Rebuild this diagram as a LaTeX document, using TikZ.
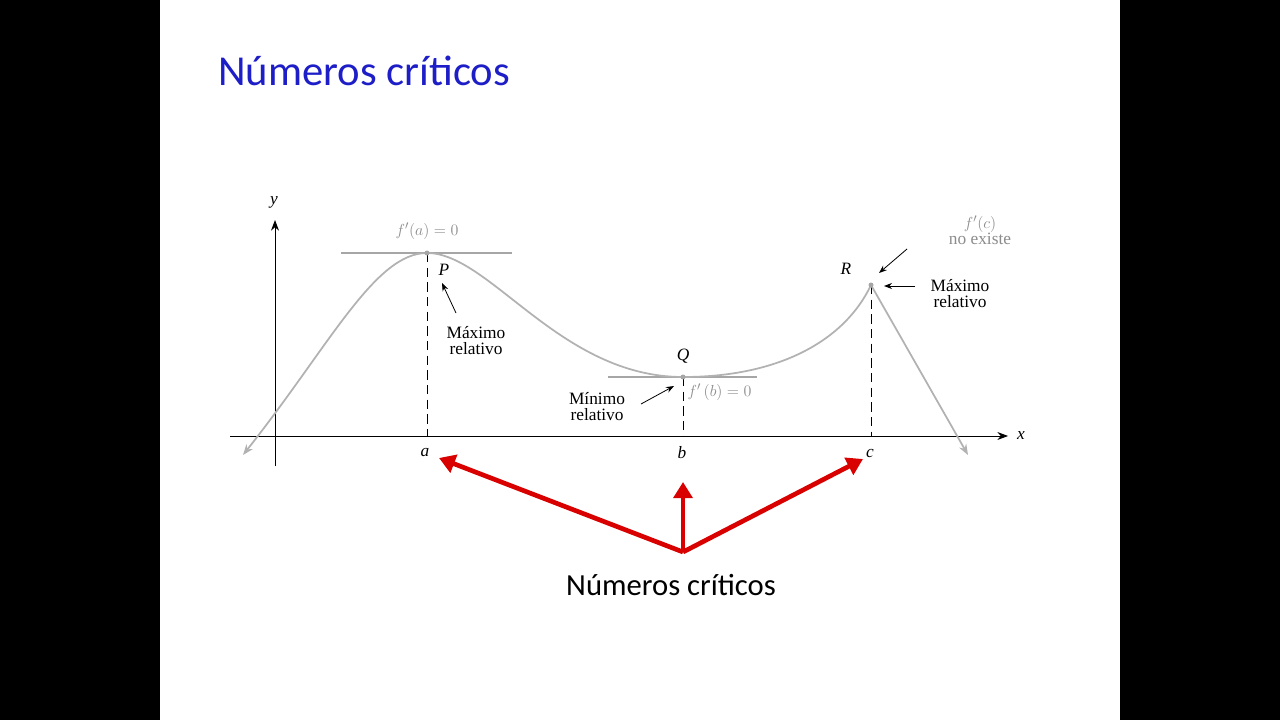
\documentclass[tikz,border=0pt]{standalone}
\usepackage{fontspec}
\setmainfont{Liberation Serif}
\newfontfamily\calfnt{Carlito}
\usetikzlibrary{arrows.meta}
\begin{document}
\begin{tikzpicture}[x=0.75pt,y=-0.75pt,
 curve/.style={draw=black!30,line width=1.3pt},
 axis/.style={draw=black,line width=0.7pt,-{Stealth[length=8pt]}},
 dsh/.style={draw=black,dash pattern=on 7pt off 4pt,line width=0.6pt},
 tan/.style={draw=black!35,line width=0.8pt},
 lab/.style={font=\fontsize{13}{14}\selectfont,align=center,inner sep=1pt},
 glab/.style={lab,text=black!45},
 ptr/.style={draw=black,line width=0.6pt,-{Stealth[length=6pt]}},
 red/.style={draw=red!85!black,line width=3.5pt,-{Triangle[length=12pt,width=14pt]}}]
\fill[black] (0,0) rectangle (1280,720);
\fill[white] (160,0) rectangle (1120,720);
\node[anchor=base west,inner sep=0,text={rgb,255:red,30;green,30;blue,200},font=\calfnt\fontsize{32}{36}\selectfont] (title) at (218,86) {Números críticos};
% axes
\coordinate (xs) at (230,436); \coordinate (xe) at (1008,436);
\coordinate (ys) at (275,466); \coordinate (ye) at (275,220);
\draw[axis] (xs) -- (xe);
\draw[axis] (ys) -- (ye);
\node[lab,font=\itshape\fontsize{13}{14}\selectfont] (xl) at (1021,436) {x};
\node[lab,font=\itshape\fontsize{13}{14}\selectfont] (yl) at (274,202) {y};
% points
\coordinate (P) at (427,253); \coordinate (Q) at (683,377); \coordinate (R) at (871,285);
\coordinate (st) at (243,455); \coordinate (en) at (968,455);
\coordinate (a0) at (427,436); \coordinate (b0) at (683,436); \coordinate (c0) at (871,436);
\draw[dsh] (P) -- (a0); \draw[dsh] (Q) -- (b0); \draw[dsh] (R) -- (c0);
\draw[tan] (341,253) -- (512,253);
\draw[tan] (608,377) -- (757,377);
\draw[curve,{Stealth[length=8pt]}-{Stealth[length=8pt]}] (st) .. controls (330,345) and (375,253) .. (P)
 .. controls (490,253) and (560,377) .. (Q)
 .. controls (780,377) and (845,340) .. (R) -- (en);
\fill[black!35] (P) circle (2.5) (Q) circle (2.5) (R) circle (2.5);
% labels
\node[lab,font=\itshape\fontsize{13}{14}\selectfont] (a) at (425,453) {a};
\node[lab,font=\itshape\fontsize{13}{14}\selectfont] (b) at (682,453) {b};
\node[lab,font=\itshape\fontsize{13}{14}\selectfont] (c) at (870,453) {c};
\node[lab,font=\itshape\fontsize{13}{14}\selectfont] (Pl) at (444,270) {P};
\node[lab,font=\itshape\fontsize{13}{14}\selectfont] (Ql) at (683,356) {Q};
\node[lab,font=\itshape\fontsize{13}{14}\selectfont] (Rl) at (846,269) {R};
\node[glab] (fa) at (427,231) {$f'(a)=0$};
\node[glab,anchor=west] (fb) at (686,392) {$f'\,(b)=0$};
\node[glab] (fc) at (980,230) {$f'(c)$\\[-2pt]no existe};
\node[lab] (mP) at (476,341) {Máximo\\[-2pt]relativo};
\node[lab] (mQ) at (597,407) {Mínimo\\[-2pt]relativo};
\node[lab] (mR) at (960,294) {Máximo\\[-2pt]relativo};
\coordinate (p1) at (456,313); \coordinate (p2) at (442,283);
\draw[ptr] (p1) -- (p2);
\coordinate (q1) at (641,404); \coordinate (q2) at (674,386);
\draw[ptr] (q1) -- (q2);
\coordinate (r1) at (907,249); \coordinate (r2) at (879,273);
\draw[ptr] (r1) -- (r2);
\coordinate (r3) at (915,286); \coordinate (r4) at (884,286);
\draw[ptr] (r3) -- (r4);
% red arrows
\coordinate (o) at (683,552);
\draw[red] (o) -- (439,458);
\draw[red] (o) -- (683,482);
\draw[red] (o) -- (863,459);
\node[anchor=base,inner sep=0,font=\calfnt\fontsize{23}{26}\selectfont] (nc) at (671,595) {Números críticos};
\end{tikzpicture}
\end{document}
